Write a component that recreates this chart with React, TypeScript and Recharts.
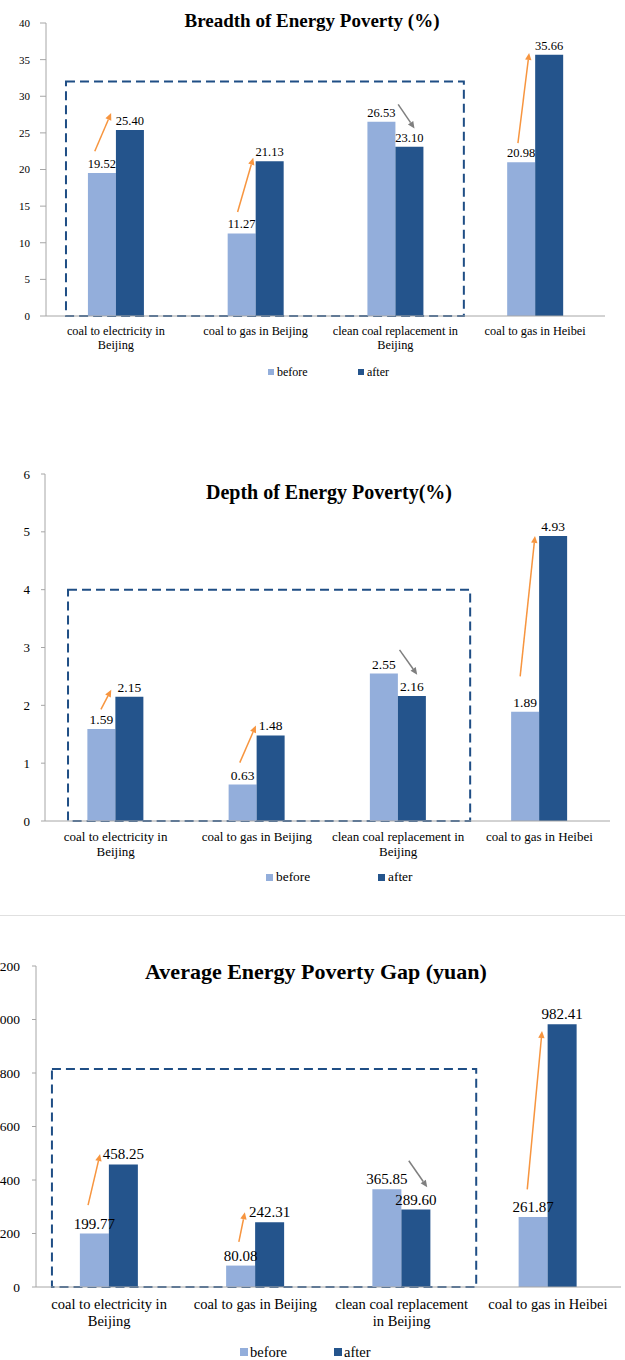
import { BarChart, Bar, XAxis, YAxis, LabelList, Legend, ReferenceArea, ReferenceLine } from 'recharts'

const SERIF = "'Liberation Serif', 'Times New Roman', Times, serif"
const BEFORE = '#93aedb'
const AFTER = '#24548c'
const BOX = '#1f4e85'
const UP = '#f7953f'
const DOWN = '#7f7f7f'

const categories = [
  'coal to electricity in Beijing',
  'coal to gas in Beijing',
  'clean coal replacement in Beijing',
  'coal to gas in Heibei',
]
const catLinesTop = [['coal to electricity in', 'Beijing'], ['coal to gas in Beijing'], ['clean coal replacement in', 'Beijing'], ['coal to gas in Heibei']]
const catLinesGap = [['coal to electricity in', 'Beijing'], ['coal to gas in Beijing'], ['clean coal replacement', 'in Beijing'], ['coal to gas in Heibei']]

const breadthBefore = [19.52, 11.27, 26.53, 20.98]
const breadthAfter = [25.4, 21.13, 23.1, 35.66]
const breadthTicks = [0, 5, 10, 15, 20, 25, 30, 35, 40]

const depthBefore = [1.59, 0.63, 2.55, 1.89]
const depthAfter = [2.15, 1.48, 2.16, 4.93]
const depthTicks = [0, 1, 2, 3, 4, 5, 6]

const gapBefore = [199.77, 80.08, 365.85, 261.87]
const gapAfter = [458.25, 242.31, 289.6, 982.41]
const gapTicks = [0, 200, 400, 600, 800, 1000, 1200]

// annotation arrows in data space: x on a 0..4 category scale, y in chart units
const breadthArrows = [
  [0.349, 22.5, 0.466, 27.7, 'up'],
  [1.371, 14.2, 1.483, 21.6, 'up'],
  [2.52, 28.9, 2.637, 25.6, 'down'],
  [3.377, 23.6, 3.457, 35.9, 'up'],
]
const depthArrows = [
  [0.396, 1.93, 0.469, 2.27, 'up'],
  [1.379, 1.01, 1.493, 1.65, 'up'],
  [2.51, 2.96, 2.635, 2.53, 'down'],
  [3.364, 2.5, 3.469, 4.93, 'up'],
]
const gapArrows = [
  [0.356, 306, 0.438, 497, 'up'],
  [1.387, 169, 1.428, 279, 'up'],
  [2.549, 472, 2.675, 373, 'down'],
  [3.359, 365, 3.46, 957, 'up'],
]

// dashed box around the Beijing programmes: [x1, x2, yTop]
const breadthBox = [0.143, 2.99, 32]
const depthBox = [0.163, 3.01, 4]
const gapBox = [0.109, 3.01, 815]

function ArrowShape(props: any) {
  const { x1, y1, x2, y2, stroke } = props
  const a = Math.atan2(y2 - y1, x2 - x1)
  const len = 7
  const hw = 3.2
  const bx = x2 - len * Math.cos(a)
  const by = y2 - len * Math.sin(a)
  const px = -Math.sin(a) * hw
  const py = Math.cos(a) * hw
  return (
    <g>
      <line x1={x1} y1={y1} x2={bx} y2={by} stroke={stroke} strokeWidth={1.5} />
      <polygon points={`${x2},${y2} ${bx + px},${by + py} ${bx - px},${by - py}`} fill={stroke} />
    </g>
  )
}

function CatTick(props: any) {
  const { x, y, payload, lines, size, dy, lh } = props
  const parts = lines[categories.indexOf(payload.value)] || [payload.value]
  return (
    <text x={x} y={y + dy} textAnchor="middle" fontSize={size} fontFamily={SERIF} fill="#000">
      {parts.map((p: string, i: number) => (
        <tspan key={i} x={x} dy={i === 0 ? 0 : lh}>{p}</tspan>
      ))}
    </text>
  )
}

function Panel(p: any) {
  const data = categories.map((c, i) => ({ name: c, pos: i + 0.5, before: p.before[i], after: p.after[i] }))
  const W = 625
  const legend = () => (
    <div style={{ position: 'relative', height: 20, fontFamily: SERIF, fontSize: p.legendSize, color: '#000' }}>
      {[['before', BEFORE], ['after', AFTER]].map(([name, color], i) => (
        <div key={name} style={{ position: 'absolute', left: p.legendX[i], top: 0, height: 20, display: 'flex', alignItems: 'center' }}>
          <span style={{ width: p.sq, height: p.sq, background: color, marginRight: p.sqGap, display: 'inline-block' }} />
          <span>{name}</span>
        </div>
      ))}
    </div>
  )
  return (
    <div style={{ position: 'absolute', left: 0, top: p.top, width: W, height: p.height }}>
      <BarChart
        width={W}
        height={p.height}
        data={data}
        margin={{ top: p.plotTop - p.top, right: W - p.plotRight, left: 0, bottom: p.mb }}
        barCategoryGap="30%"
        barGap={0}
      >
        {/* numeric 0..4 axis: draws the baseline with ticks at category borders, and places the annotations */}
        <XAxis
          xAxisId={0}
          dataKey="pos"
          type="number"
          domain={[0, 4]}
          ticks={[0, 1, 2, 3, 4]}
          allowDataOverflow
          height={1}
          tick={false}
          tickSize={5}
          stroke="#a6a6a6"
        />
        <XAxis
          xAxisId="cat"
          dataKey="name"
          height={p.xh - 1}
          axisLine={false}
          tickLine={false}
          tickSize={0}
          tickMargin={0}
          interval={0}
          tick={<CatTick lines={p.lines} size={p.catSize} dy={p.catDy - 1} lh={p.catLh} />}
        />
        <YAxis
          width={p.plotLeft}
          domain={[0, p.ticks[p.ticks.length - 1]]}
          ticks={p.ticks}
          interval={0}
          tickSize={p.tickLen}
          tickMargin={p.tickGap}
          stroke="#a6a6a6"
          tick={{ fill: '#000', fontSize: p.yTickSize, fontFamily: SERIF }}
        />
        <Legend verticalAlign="bottom" content={legend} wrapperStyle={{ left: 0, width: W, height: 20 }} />
        <Bar xAxisId="cat" dataKey="before" fill={BEFORE} isAnimationActive={false}>
          <LabelList dataKey="before" position="top" offset={5} fill="#000" fontSize={p.valSize} fontFamily={SERIF} formatter={(v: any) => Number(v).toFixed(2)} />
        </Bar>
        <Bar xAxisId="cat" dataKey="after" fill={AFTER} isAnimationActive={false}>
          <LabelList dataKey="after" position="top" offset={5} fill="#000" fontSize={p.valSize} fontFamily={SERIF} formatter={(v: any) => Number(v).toFixed(2)} />
        </Bar>
        <ReferenceArea
          xAxisId={0}
          x1={p.box[0]}
          x2={p.box[1]}
          y1={0}
          y2={p.box[2]}
          fill="none"
          fillOpacity={0}
          stroke={BOX}
          strokeWidth={2}
          strokeDasharray="9 5"
        />
        {p.arrows.map((a: any[], i: number) => (
          <ReferenceLine
            key={i}
            xAxisId={0}
            segment={[{ x: a[0], y: a[1] }, { x: a[2], y: a[3] }]}
            stroke={a[4] === 'up' ? UP : DOWN}
            shape={ArrowShape}
          />
        ))}
      </BarChart>
      <div
        style={{
          position: 'absolute',
          left: p.titleX,
          top: p.titleY - p.top,
          transform: 'translate(-50%, -50%)',
          fontFamily: SERIF,
          fontWeight: 'bold',
          fontSize: p.titleSize,
          whiteSpace: 'nowrap',
          color: '#000',
        }}
      >
        {p.title}
      </div>
    </div>
  )
}

export default function App() {
  return (
    <div style={{ position: 'absolute', left: 0, top: 0, width: 625, height: 1360, background: '#fff', overflow: 'hidden' }}>
      <Panel
        title="Breadth of Energy Poverty (%)"
        titleX={312} titleY={21} titleSize={19}
        top={0} height={386} mb={4}
        plotTop={23} plotLeft={46} plotRight={605} xh={46}
        ticks={breadthTicks} yTickSize={11} tickLen={6} tickGap={10}
        lines={catLinesTop} catSize={12.3} catDy={19} catLh={14}
        valSize={12.5}
        legendX={[268, 358]} legendSize={12} sq={6} sqGap={3}
        before={breadthBefore} after={breadthAfter}
        arrows={breadthArrows} box={breadthBox}
      />
      <Panel
        title="Depth of Energy Poverty(%)"
        titleX={329} titleY={492} titleSize={20}
        top={450} height={441} mb={4}
        plotTop={474} plotLeft={45} plotRight={610} xh={46}
        ticks={depthTicks} yTickSize={13} tickLen={4} tickGap={11}
        lines={catLinesTop} catSize={13} catDy={20} catLh={15}
        valSize={13.5}
        legendX={[266, 378]} legendSize={13.4} sq={7} sqGap={3}
        before={depthBefore} after={depthAfter}
        arrows={depthArrows} box={depthBox}
      />
      <div style={{ position: 'absolute', left: 0, top: 915, width: 625, borderTop: '1.5px solid #e0e0e0' }} />
      <Panel
        title="Average Energy Poverty Gap (yuan)"
        titleX={316} titleY={972} titleSize={22}
        top={930} height={432} mb={0}
        plotTop={966} plotLeft={36} plotRight={621} xh={55}
        ticks={gapTicks} yTickSize={13.5} tickLen={4} tickGap={12}
        lines={catLinesGap} catSize={14.5} catDy={22} catLh={17}
        valSize={15}
        legendX={[240, 334]} legendSize={14.5} sq={8} sqGap={2}
        before={gapBefore} after={gapAfter}
        arrows={gapArrows} box={gapBox}
      />
    </div>
  )
}
